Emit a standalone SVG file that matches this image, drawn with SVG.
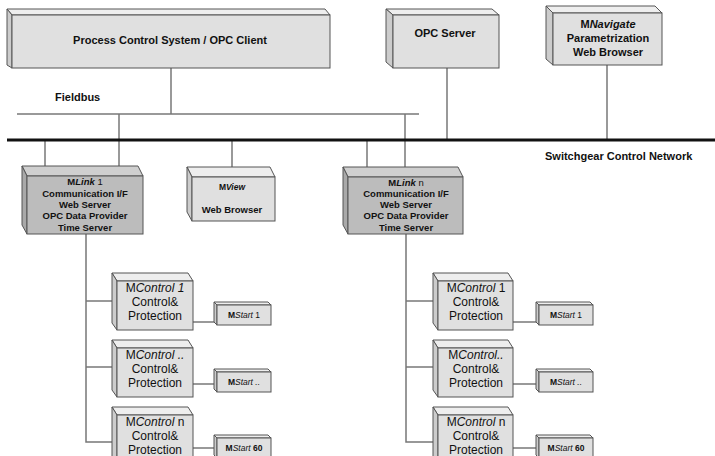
<svg xmlns="http://www.w3.org/2000/svg" width="715" height="456" viewBox="0 0 715 456">
  <style>
    .top { fill: #eeeeee; stroke: #555; stroke-width: 1; }
    .side { fill: #cccccc; stroke: #555; stroke-width: 1; }
    .front { fill: #e0e0e0; stroke: #555; stroke-width: 1; }
    .dtop { fill: #cfcfcf; stroke: #555; stroke-width: 1; }
    .dside { fill: #a9a9a9; stroke: #555; stroke-width: 1; }
    .dfront { fill: #bcbcbc; stroke: #555; stroke-width: 1; }
    .wire { stroke: #777; stroke-width: 1.5; fill: none; }
    .bus { stroke: #111; stroke-width: 3; fill: none; }
    text { font-family: "Liberation Sans", Arial, sans-serif; fill: #111; text-anchor: middle; }
    .lbl { font-size: 11px; font-weight: bold; }
    .lnk { font-size: 9.5px; font-weight: bold; }
    .ctl { font-size: 12px; }
    .st { font-size: 8.5px; font-weight: bold; }
    .it { font-style: italic; }
  </style>

  <g id="connectors">
    <!-- fieldbus -->
    <line class="wire" x1="17" y1="114" x2="419" y2="114"/>
    <line class="wire" x1="171" y1="68" x2="171" y2="114"/>
    <line class="wire" x1="119" y1="114" x2="119" y2="167"/>
    <line class="wire" x1="405" y1="114" x2="405" y2="168"/>
    <!-- switchgear control network -->
    <line class="wire" x1="45" y1="140" x2="45" y2="167"/>
    <line class="wire" x1="232" y1="140" x2="232" y2="168"/>
    <line class="wire" x1="367" y1="140" x2="367" y2="168"/>
    <line class="wire" x1="447" y1="68" x2="447" y2="140"/>
    <line class="wire" x1="607" y1="65" x2="607" y2="140"/>
    <line class="bus" x1="7" y1="140" x2="715" y2="140"/>
    <!-- MLink 1 tree -->
    <polyline class="wire" points="86,234 86,442 113,442"/>
    <line class="wire" x1="86" y1="301" x2="113" y2="301"/>
    <line class="wire" x1="86" y1="367" x2="113" y2="367"/>
    <line class="wire" x1="193" y1="322" x2="215" y2="322"/>
    <line class="wire" x1="193" y1="384" x2="215" y2="384"/>
    <line class="wire" x1="193" y1="448" x2="215" y2="448"/>
    <!-- MLink n tree -->
    <polyline class="wire" points="406,234 406,442 434,442"/>
    <line class="wire" x1="406" y1="301" x2="434" y2="301"/>
    <line class="wire" x1="406" y1="367" x2="434" y2="367"/>
    <line class="wire" x1="513" y1="322" x2="537" y2="322"/>
    <line class="wire" x1="513" y1="384" x2="537" y2="384"/>
    <line class="wire" x1="513" y1="448" x2="537" y2="448"/>
  </g>

  <g id="pcs">
    <polygon class="top" points="7,9 325,9 330,15 12,15"/>
    <polygon class="side" points="7,9 12,15 12,68 7,65"/>
    <rect class="front" x="12" y="15" width="318" height="53"/>
    <text class="lbl" x="170" y="44">Process Control System / OPC Client</text>
  </g>

  <text class="lbl" x="55" y="101" style="text-anchor:start">Fieldbus</text>
  <text class="lbl" x="545" y="160" style="text-anchor:start">Switchgear Control Network</text>

  <g id="opc-server">
    <polygon class="top" points="386,9 492,9 499,15 393,15"/>
    <polygon class="side" points="386,9 393,15 393,68 386,62"/>
    <rect class="front" x="393" y="15" width="106" height="53"/>
    <text class="lbl" x="445" y="37">OPC Server</text>
  </g>

  <g id="mnavigate">
    <polygon class="top" points="546,6 655,6 662,13 553,13"/>
    <polygon class="side" points="546,6 553,13 553,65 546,59"/>
    <rect class="front" x="553" y="13" width="109" height="52"/>
    <text class="lbl" x="608" y="28">M<tspan class="it">Navigate</tspan></text>
    <text class="lbl" x="608" y="42">Parametrization</text>
    <text class="lbl" x="608" y="56">Web Browser</text>
  </g>

  <g id="mlink-1">
    <polygon class="dtop" points="22,166 138,166 143,176 27,176"/>
    <polygon class="dside" points="22,166 27,176 27,234 22,225"/>
    <rect class="dfront" x="27" y="176" width="116" height="58"/>
    <text class="lnk" x="85" y="185">M<tspan class="it">Link</tspan> <tspan font-weight="normal">1</tspan></text>
    <text class="lnk" x="85" y="196.5">Communication I/F</text>
    <text class="lnk" x="85" y="207.5">Web Server</text>
    <text class="lnk" x="85" y="219">OPC Data Provider</text>
    <text class="lnk" x="85" y="230.5">Time Server</text>
  </g>

  <g id="mview">
    <polygon class="top" points="187,167 270,167 275,177 192,177"/>
    <polygon class="side" points="187,167 192,177 192,221 187,212"/>
    <rect class="front" x="192" y="177" width="83" height="44"/>
    <text class="st" x="232" y="190">M<tspan class="it">View</tspan></text>
    <text class="lnk" x="232" y="213">Web Browser</text>
  </g>

  <g id="mlink-n">
    <polygon class="dtop" points="343,167 458,167 463,177 348,177"/>
    <polygon class="dside" points="343,167 348,177 348,234 343,225"/>
    <rect class="dfront" x="348" y="177" width="115" height="57"/>
    <text class="lnk" x="406" y="185.5">M<tspan class="it">Link</tspan> <tspan font-weight="normal">n</tspan></text>
    <text class="lnk" x="406" y="196.5">Communication I/F</text>
    <text class="lnk" x="406" y="207.5">Web Server</text>
    <text class="lnk" x="406" y="219">OPC Data Provider</text>
    <text class="lnk" x="406" y="230.5">Time Server</text>
  </g>

  <!-- MControl units under MLink 1 -->
  <g id="mcontrol-1a">
    <polygon class="top" points="112,273 188,273 193,281 117,281"/>
    <polygon class="side" points="112,273 117,281 117,330 112,323"/>
    <rect class="front" x="117" y="281" width="76" height="49"/>
    <text class="ctl" x="155" y="292">M<tspan class="it">Control 1</tspan></text>
    <text class="ctl" x="155" y="306">Control&amp;</text>
    <text class="ctl" x="155" y="320">Protection</text>
  </g>
  <g id="mcontrol-2a">
    <polygon class="top" points="112,340 188,340 193,348 117,348"/>
    <polygon class="side" points="112,340 117,348 117,397 112,390"/>
    <rect class="front" x="117" y="348" width="76" height="49"/>
    <text class="ctl" x="155" y="359">M<tspan class="it">Control ..</tspan></text>
    <text class="ctl" x="155" y="373">Control&amp;</text>
    <text class="ctl" x="155" y="387">Protection</text>
  </g>
  <g id="mcontrol-na">
    <polygon class="top" points="112,407 188,407 193,415 117,415"/>
    <polygon class="side" points="112,407 117,415 117,464 112,457"/>
    <rect class="front" x="117" y="415" width="76" height="49"/>
    <text class="ctl" x="155" y="426">M<tspan class="it">Control</tspan> n</text>
    <text class="ctl" x="155" y="440">Control&amp;</text>
    <text class="ctl" x="155" y="454">Protection</text>
  </g>
  <g id="mstart-1a">
    <polygon class="top" points="214,302 268,302 271,305 217,305"/>
    <polygon class="side" points="214,302 217,305 217,325 214,322"/>
    <rect class="front" x="217" y="305" width="54" height="20"/>
    <text class="st" x="244" y="318">M<tspan class="it" font-weight="normal">Start</tspan> <tspan font-weight="normal">1</tspan></text>
  </g>
  <g id="mstart-2a">
    <polygon class="top" points="214,369 268,369 271,372 217,372"/>
    <polygon class="side" points="214,369 217,372 217,392 214,389"/>
    <rect class="front" x="217" y="372" width="54" height="20"/>
    <text class="st" x="244" y="385">M<tspan class="it" font-weight="normal">Start ..</tspan></text>
  </g>
  <g id="mstart-na">
    <polygon class="top" points="214,435 268,435 271,438 217,438"/>
    <polygon class="side" points="214,435 217,438 217,458 214,455"/>
    <rect class="front" x="217" y="438" width="54" height="20"/>
    <text class="st" x="244" y="451">M<tspan class="it" font-weight="normal">Start</tspan> 60</text>
  </g>

  <!-- MControl units under MLink n -->
  <g id="mcontrol-1b">
    <polygon class="top" points="433,273 508,273 513,281 438,281"/>
    <polygon class="side" points="433,273 438,281 438,330 433,323"/>
    <rect class="front" x="438" y="281" width="75" height="49"/>
    <text class="ctl" x="476" y="292">M<tspan class="it">Control</tspan> 1</text>
    <text class="ctl" x="476" y="306">Control&amp;</text>
    <text class="ctl" x="476" y="320">Protection</text>
  </g>
  <g id="mcontrol-2b">
    <polygon class="top" points="433,340 508,340 513,348 438,348"/>
    <polygon class="side" points="433,340 438,348 438,397 433,390"/>
    <rect class="front" x="438" y="348" width="75" height="49"/>
    <text class="ctl" x="476" y="359">M<tspan class="it">Control..</tspan></text>
    <text class="ctl" x="476" y="373">Control&amp;</text>
    <text class="ctl" x="476" y="387">Protection</text>
  </g>
  <g id="mcontrol-nb">
    <polygon class="top" points="433,407 508,407 513,415 438,415"/>
    <polygon class="side" points="433,407 438,415 438,464 433,457"/>
    <rect class="front" x="438" y="415" width="75" height="49"/>
    <text class="ctl" x="476" y="426">M<tspan class="it">Control</tspan> n</text>
    <text class="ctl" x="476" y="440">Control&amp;</text>
    <text class="ctl" x="476" y="454">Protection</text>
  </g>
  <g id="mstart-1b">
    <polygon class="top" points="536,302 590,302 593,305 539,305"/>
    <polygon class="side" points="536,302 539,305 539,325 536,322"/>
    <rect class="front" x="539" y="305" width="54" height="20"/>
    <text class="st" x="566" y="318">M<tspan class="it" font-weight="normal">Start</tspan> <tspan font-weight="normal">1</tspan></text>
  </g>
  <g id="mstart-2b">
    <polygon class="top" points="536,369 590,369 593,372 539,372"/>
    <polygon class="side" points="536,369 539,372 539,392 536,389"/>
    <rect class="front" x="539" y="372" width="54" height="20"/>
    <text class="st" x="566" y="385">M<tspan class="it" font-weight="normal">Start ..</tspan></text>
  </g>
  <g id="mstart-nb">
    <polygon class="top" points="536,435 590,435 593,438 539,438"/>
    <polygon class="side" points="536,435 539,438 539,458 536,455"/>
    <rect class="front" x="539" y="438" width="54" height="20"/>
    <text class="st" x="566" y="451">M<tspan class="it" font-weight="normal">Start</tspan> 60</text>
  </g>
</svg>
